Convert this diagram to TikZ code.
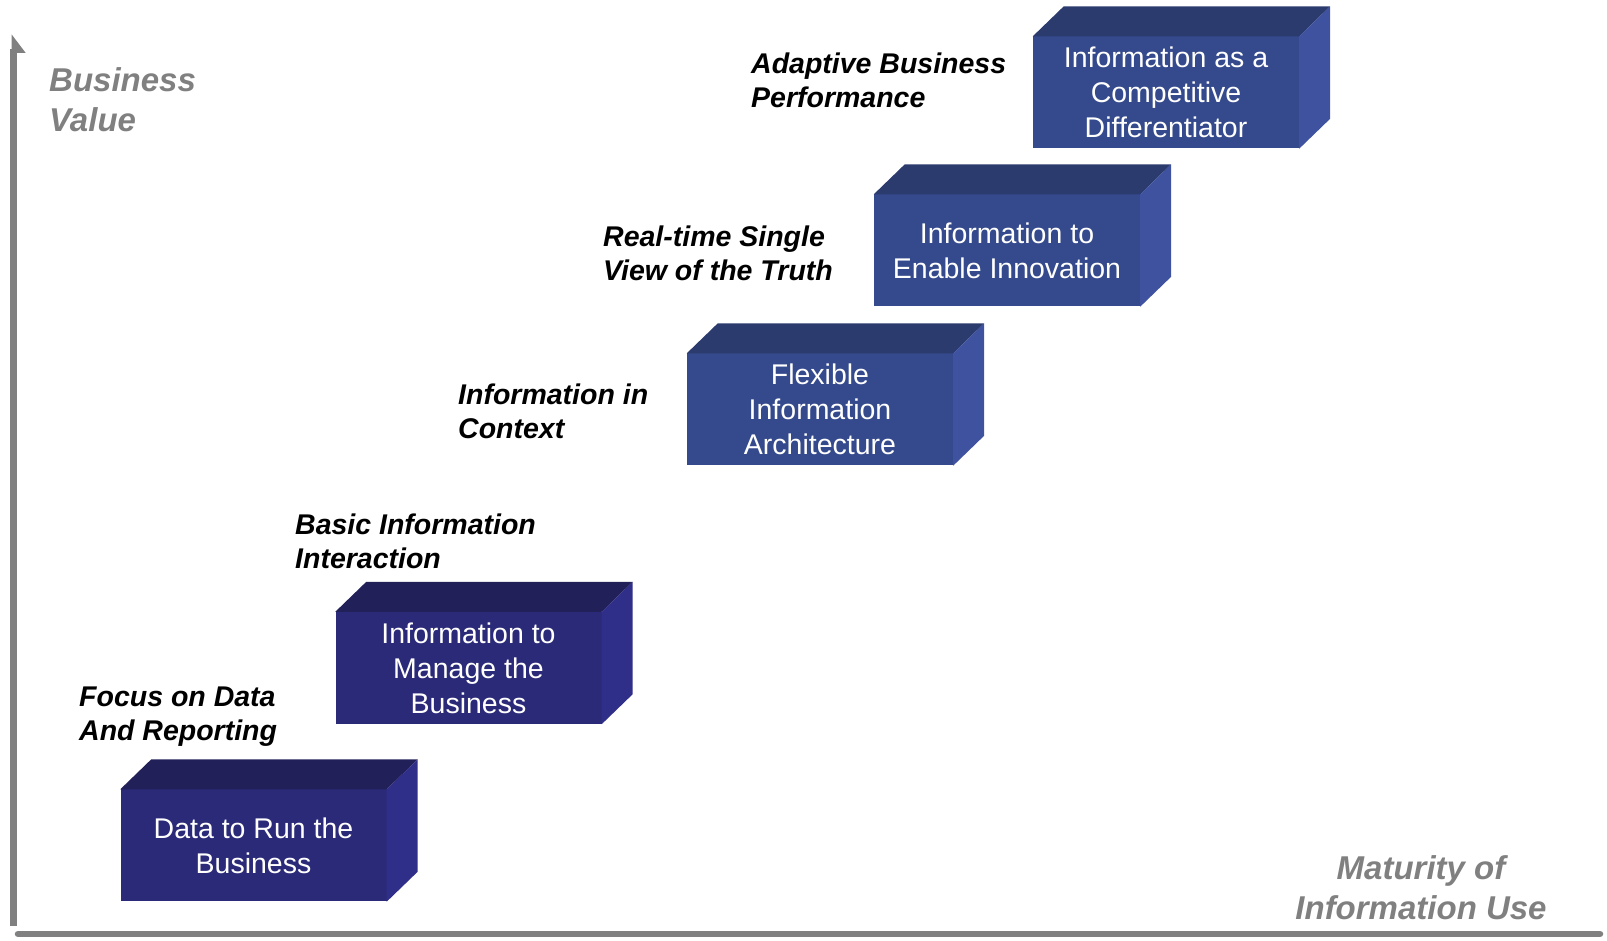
\documentclass[tikz,border=0pt]{standalone}
\usepackage{fontspec}
\setmainfont{Liberation Sans}
\usetikzlibrary{arrows.meta}

\definecolor{frontdark}{HTML}{2B2A78}
\definecolor{topdark}{HTML}{222059}
\definecolor{sidedark}{HTML}{2F2E88}
\definecolor{frontlight}{HTML}{354A8C}
\definecolor{toplight}{HTML}{2B3B6E}
\definecolor{sidelight}{HTML}{3E52A0}
\definecolor{axisgray}{HTML}{808080}

\begin{document}
\begin{tikzpicture}[x=1pt, y=1pt]
		\tikzset{
			block/.style={minimum width=266pt, minimum height=112pt, inner sep=0pt, align=center, text=white, font=\fontsize{28.5}{35}\selectfont},
			darkbox/.style={block, fill=frontdark},
			lightbox/.style={block, fill=frontlight},
			stage/.style={anchor=west, inner sep=0pt, align=left, font=\fontsize{28.5}{34}\selectfont\bfseries\itshape},
			axislabel/.style={inner sep=0pt, text=axisgray, font=\fontsize{33}{40}\selectfont\bfseries\itshape}
		}
		\useasboundingbox (0,0) rectangle (1607,941);
		
		% Axes
		\coordinate (ybottom) at (13.5,15);
		\coordinate (ytop) at (13.5,907);
		\coordinate (xleft) at (18,7);
		\coordinate (xright) at (1600,7);
		\draw[axisgray, line width=7pt, -{Triangle[right, width=23pt, length=16pt]}] (ybottom) -- (ytop);
		\draw[axisgray, line width=6.5pt, line cap=round] (xleft) -- (xright);
		
		% Axis titles
		\node[axislabel, anchor=west, align=left] (value) at (49,841.5) {Business\\Value};
		\node[axislabel, align=center] (maturity) at (1421,53) {Maturity of\\Information Use};
		
		% Steps (front faces)
		\node[darkbox] (data) at (253.5,95.5) {Data to Run the\\Business};
		\node[darkbox] (manage) at (468.5,273) {Information to\\Manage the\\Business};
		\node[lightbox] (flexible) at (820,531.5) {Flexible\\Information\\Architecture};
		\node[lightbox] (innovation) at (1007,690.5) {Information to\\Enable Innovation};
		\node[lightbox] (compete) at (1166,848.5) {Information as a\\Competitive\\Differentiator};
		
		% Top and side faces
		\foreach \n/\tone in {data/dark, manage/dark, flexible/light, innovation/light, compete/light} {
			\fill[top\tone] (\n.north west) -- ++(31,30) -- ([shift={(31,30)}]\n.north east) -- (\n.north east) -- cycle;
			\fill[side\tone] (\n.north east) -- ++(31,30) -- ([shift={(31,30)}]\n.south east) -- (\n.south east) -- cycle;
		}
		
		% Stage labels
		\node[stage] (focus) at (79,224) {Focus on Data\\And Reporting};
		\node[stage] (basic) at (295,400) {Basic Information\\Interaction};
		\node[stage] (context) at (458,530) {Information in\\Context};
		\node[stage] (truth) at (603,688) {Real-time Single\\View of the Truth};
		\node[stage] (adaptive) at (751,860.5) {Adaptive Business\\Performance};
		
	\end{tikzpicture}
\end{document}
